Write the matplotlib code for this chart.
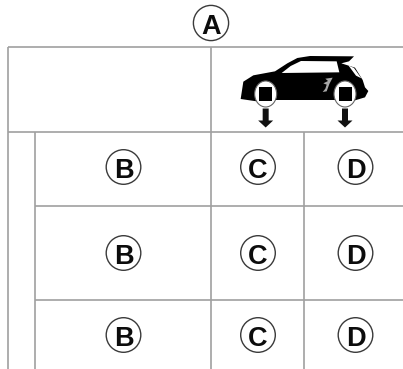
import matplotlib
matplotlib.use("Agg")
import matplotlib.pyplot as plt
from matplotlib.patches import Circle, Ellipse, Polygon, Rectangle

W, H = 403, 369
LINE = "#a0a0a0"
row_labels = ["B", "C", "D"]
col_x = [123.5, 258, 355.5]
row_y = [167, 253, 335]
# (y, x0, x1)
h_lines = [(47, 8, 403), (132, 8, 403), (206, 35, 403), (299.5, 35, 403)]
# (x, y0, y1)
v_lines = [(8, 47, 369), (35, 132, 369), (210.5, 47, 369), (304, 132, 369)]

# car pictogram outline, zoom-crop coordinates (x3, offset 200)
car_body = [(122, 297), (130, 245), (160, 226), (225, 214), (262, 190), (292, 174), (330, 168),
            (462, 169), (447, 184), (424, 190), (465, 203), (488, 240), (495, 262), (505, 273),
            (495, 292), (455, 304), (410, 300), (225, 300), (170, 304)]
car_win = [(245, 219), (272, 198), (303, 183), (410, 184), (418, 217)]
car_rear = [(445, 196), (462, 204), (484, 235), (468, 227)]
car_mark = [(376, 236), (398, 233), (388, 252), (380, 274), (368, 276), (376, 266), (380, 254), (370, 250), (384, 243)]
wheels_x = [197, 435]

fig = plt.figure(figsize=(W / 100, H / 100), dpi=100)
ax = fig.add_axes([0, 0, 1, 1])
ax.set_xlim(0, W)
ax.set_ylim(H, 0)
ax.axis("off")

for y, x0, x1 in h_lines:
    ax.plot([x0, x1], [y, y], color=LINE, lw=1.2, solid_capstyle="butt", zorder=1)
for x, y0, y1 in v_lines:
    ax.plot([x, x], [y0, y1], color=LINE, lw=1.2, solid_capstyle="butt", zorder=1)


def badge(x, y, s, r=17.3):
    ax.add_patch(Circle((x, y), r, fc="white", ec="#3a3a3a", lw=1.0, zorder=2))
    ax.text(x, y + 0.5, s, ha="center", va="center_baseline", family="Liberation Sans",
            weight="bold", fontsize=19.5, color="#0c0c0c", zorder=3)


badge(211, 23, "A", 17.6)
for y in row_y:
    for x, s in zip(col_x, row_labels):
        badge(x, y, s)


def tr(pts):
    return [(200 + a / 3, b / 3) for a, b in pts]


ax.add_patch(Polygon(tr(car_body), fc="black", ec="none", zorder=2))
ax.add_patch(Polygon(tr(car_win), fc="white", ec="none", zorder=3))
ax.add_patch(Polygon(tr(car_rear), fc="white", ec="none", zorder=3))
ax.add_patch(Polygon(tr(car_mark), fc="#a8a8a8", ec="none", zorder=3))
for zx in wheels_x:
    cx, cy = 200 + zx / 3, 94
    ax.add_patch(Ellipse((cx, cy), 22, 26, fc="white", ec="#666666", lw=0.8, zorder=4))
    ax.add_patch(Rectangle((cx - 6.5, cy - 7), 13, 14, fc="black", ec="none", zorder=5))
    ax.add_patch(Polygon([(cx - 3, 108.5), (cx + 3, 108.5), (cx + 3, 120.5), (cx + 7.5, 120.5),
                          (cx, 127.5), (cx - 7.5, 120.5), (cx - 3, 120.5)],
                         fc="#111111", ec="none", zorder=4))

fig.savefig("out.png", dpi=100, facecolor="white")
